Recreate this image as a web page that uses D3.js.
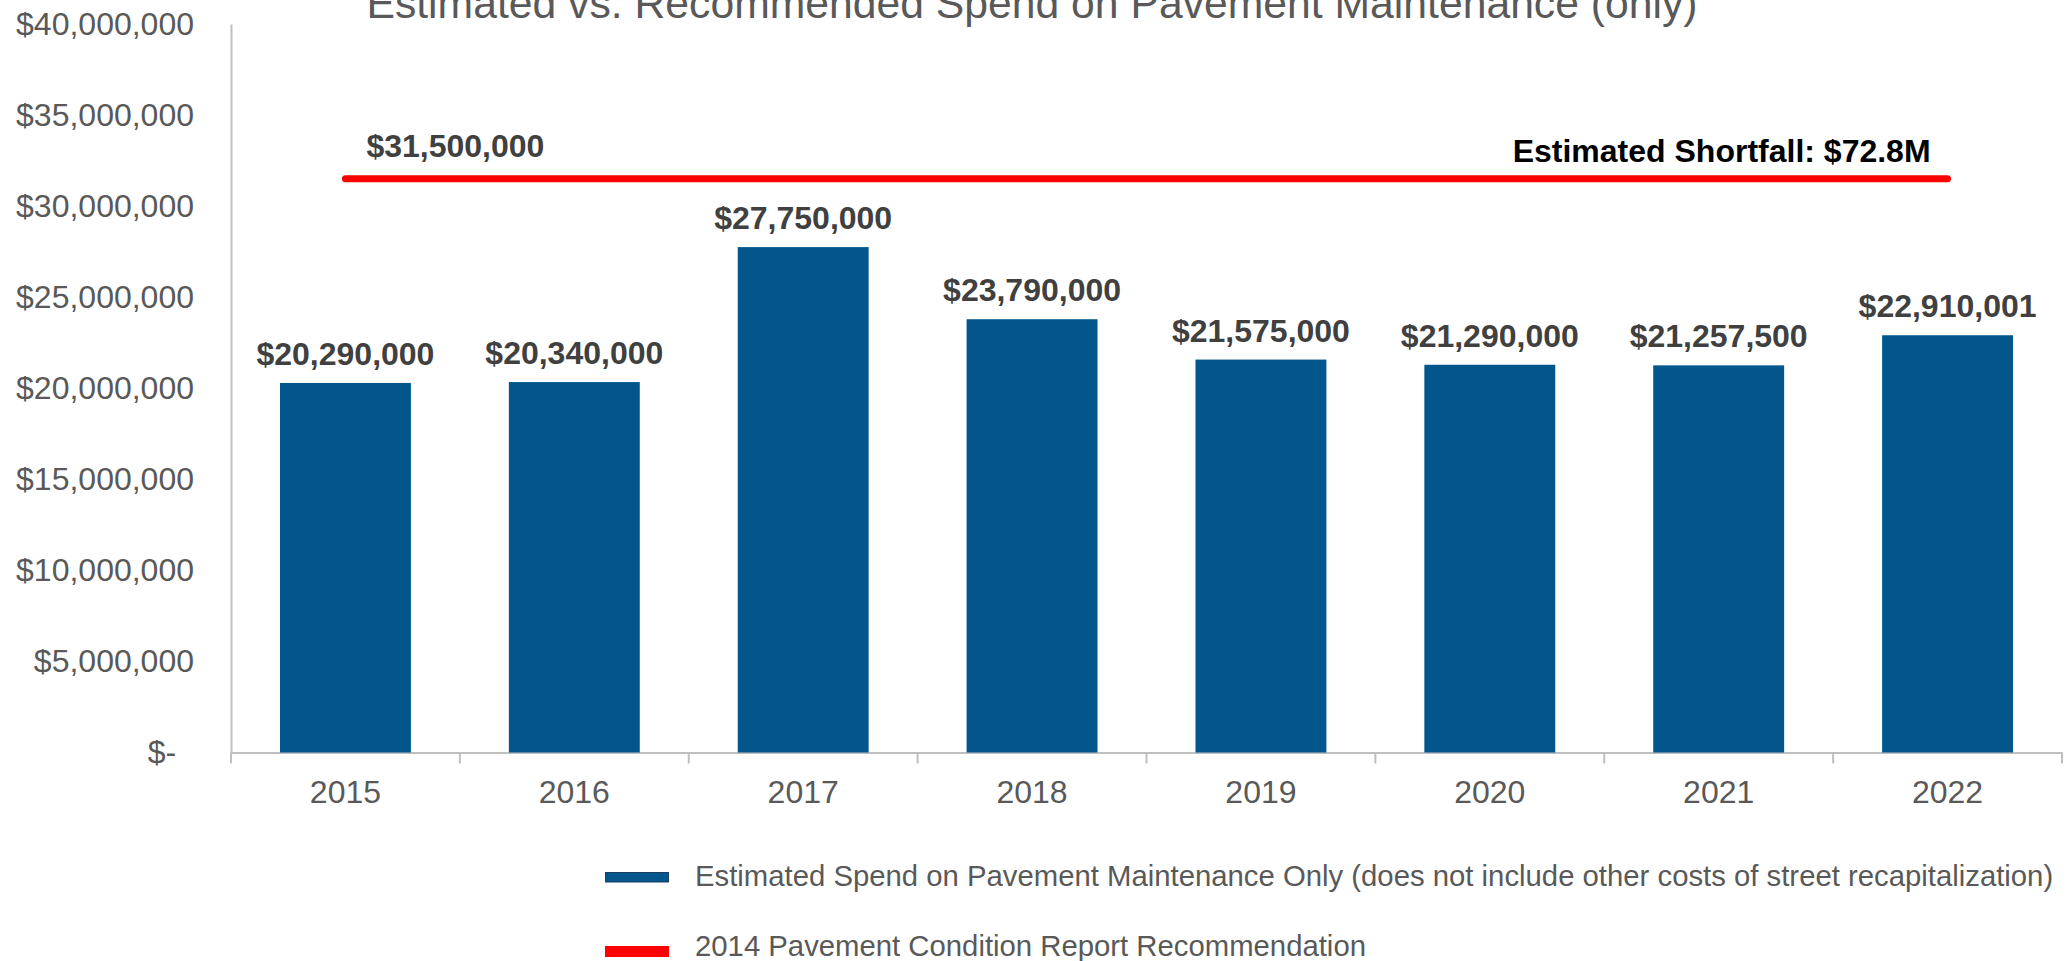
<!DOCTYPE html>
<html>
<head>
<meta charset="utf-8">
<script src="https://cdn.jsdelivr.net/npm/d3@7"></script>
<style>
  html, body { margin: 0; padding: 0; background: #ffffff; }
  svg { display: block; font-family: "Liberation Sans", Arial, Helvetica, sans-serif; }
</style>
</head>
<body>
<svg id="chart" width="2068" height="961"></svg>
<script>
// Fiscal years shown along the x axis
const years = ["2015", "2016", "2017", "2018", "2019", "2020", "2021", "2022"];
// Estimated spend on pavement maintenance per year (USD)
const spend = [20290000, 20340000, 27750000, 23790000, 21575000, 21290000, 21257500, 22910001];
// 2014 Pavement Condition Report recommended annual spend (USD)
const recommended = [31500000, 31500000, 31500000, 31500000, 31500000, 31500000, 31500000, 31500000];
// Y axis tick values
const yTicks = [0, 5000000, 10000000, 15000000, 20000000, 25000000, 30000000, 35000000, 40000000];

const titleText = "Estimated vs. Recommended Spend on Pavement Maintenance (only)";
const legendLabels = [
  "Estimated Spend on Pavement Maintenance Only (does not include other costs of street recapitalization)",
  "2014 Pavement Condition Report Recommendation"
];

const BLUE = "#02568b";
const RED = "#ff0000";
const AXIS = "#bfbfbf";
const TEXT_GRAY = "#595959";
const LABEL_DARK = "#404040";

const svg = d3.select("#chart");

const plot = { left: 231, right: 2062, top: 24, bottom: 752.5 };

const x = d3.scaleBand()
  .domain(years)
  .range([plot.left, plot.right])
  .paddingInner(0.428)
  .paddingOuter(0.214);

const y = d3.scaleLinear()
  .domain([0, 40000000])
  .range([plot.bottom, plot.top]);

const money = d3.format("$,");

// Title (partly above the top edge of the canvas)
svg.append("text")
  .attr("x", 1032)
  .attr("y", 18)
  .attr("text-anchor", "middle")
  .attr("font-size", 42.7)
  .attr("fill", TEXT_GRAY)
  .text(titleText);

// Y axis
const yAxis = svg.append("g")
  .attr("transform", `translate(${plot.left},0)`)
  .call(d3.axisLeft(y)
    .tickValues(yTicks)
    .tickSize(0)
    .tickPadding(37)
    .tickFormat(d => d === 0 ? "$-\u00a0\u00a0" : money(d)));
yAxis.select(".domain").attr("stroke", AXIS).attr("stroke-width", 2);
yAxis.selectAll("text")
  .attr("font-size", 32)
  .attr("fill", TEXT_GRAY)
  .attr("font-family", "\"Liberation Sans\", Arial, sans-serif");

// X axis: labels centred under each band
const xAxis = svg.append("g")
  .attr("transform", `translate(0,${plot.bottom})`)
  .call(d3.axisBottom(x).tickSize(0).tickPadding(28).tickSizeOuter(0));
xAxis.select(".domain").attr("stroke", AXIS).attr("stroke-width", 2);
xAxis.selectAll("text")
  .attr("font-size", 32)
  .attr("fill", TEXT_GRAY)
  .attr("font-family", "\"Liberation Sans\", Arial, sans-serif");

// Tick marks on category boundaries
const boundaries = years.map(d => x(d) - x.step() * x.paddingOuter()).concat([plot.right]);
svg.append("g")
  .selectAll("line")
  .data(boundaries)
  .join("line")
  .attr("x1", d => d)
  .attr("x2", d => d)
  .attr("y1", plot.bottom)
  .attr("y2", plot.bottom + 11)
  .attr("stroke", AXIS)
  .attr("stroke-width", 2);

// Bars
svg.append("g")
  .selectAll("rect")
  .data(spend)
  .join("rect")
  .attr("x", (d, i) => x(years[i]))
  .attr("y", d => y(d))
  .attr("width", x.bandwidth())
  .attr("height", d => y(0) - y(d))
  .attr("fill", BLUE);

// Bar value labels
svg.append("g")
  .selectAll("text")
  .data(spend)
  .join("text")
  .attr("x", (d, i) => x(years[i]) + x.bandwidth() / 2)
  .attr("y", d => y(d) - 18)
  .attr("text-anchor", "middle")
  .attr("font-size", 32)
  .attr("font-weight", "bold")
  .attr("fill", LABEL_DARK)
  .text(d => money(d));

// Recommendation line across category centres
const cx = d => x(d) + x.bandwidth() / 2;
const line = d3.line()
  .x((d, i) => cx(years[i]))
  .y(d => y(d));
svg.append("path")
  .datum(recommended)
  .attr("d", line)
  .attr("fill", "none")
  .attr("stroke", RED)
  .attr("stroke-width", 7)
  .attr("stroke-linecap", "round");

svg.append("text")
  .attr("x", cx(years[0]) + 21)
  .attr("y", y(recommended[0]) - 22)
  .attr("font-size", 32)
  .attr("font-weight", "bold")
  .attr("fill", LABEL_DARK)
  .text(money(recommended[0]));

// Shortfall: total recommended minus total estimated spend
const shortfall = d3.sum(recommended) - d3.sum(spend);
svg.append("text")
  .attr("x", cx(years[years.length - 1]) - 17)
  .attr("y", y(recommended[0]) - 17)
  .attr("text-anchor", "end")
  .attr("font-size", 32)
  .attr("font-weight", "bold")
  .attr("fill", "#000000")
  .text(`Estimated Shortfall: $${(shortfall / 1e6).toFixed(1)}M`);

// Legend
const legend = svg.append("g");
legend.append("rect")
  .attr("x", 605.5).attr("y", 872.5)
  .attr("width", 63).attr("height", 9.5)
  .attr("fill", BLUE)
  .attr("stroke", "#1d3f63")
  .attr("stroke-width", 1);
legend.append("text")
  .attr("x", 695).attr("y", 886)
  .attr("font-size", 29.3)
  .attr("fill", TEXT_GRAY)
  .text(legendLabels[0]);

legend.append("rect")
  .attr("x", 605).attr("y", 946)
  .attr("width", 64).attr("height", 11)
  .attr("fill", RED);
legend.append("text")
  .attr("x", 695).attr("y", 956)
  .attr("font-size", 29.3)
  .attr("fill", TEXT_GRAY)
  .text(legendLabels[1]);
</script>
</body>
</html>
